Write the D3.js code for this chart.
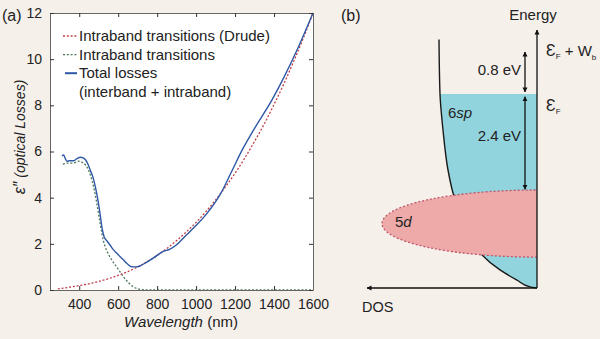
<!DOCTYPE html>
<html>
<head>
<meta charset="utf-8">
<script src="https://cdn.jsdelivr.net/npm/d3@7"></script>
<style>
  html, body { margin: 0; padding: 0; background: #f6f0eb; }
  svg { display: block; font-family: "Liberation Sans", Arial, sans-serif; }
</style>
</head>
<body>
<svg id="chart" width="600" height="339"></svg>
<script>
// ---------- Panel (a) data ----------
const xTicks = [400, 600, 800, 1000, 1200, 1400, 1600];
const yTicks = [0, 2, 4, 6, 8, 10, 12];

const totalWl = [312, 320, 328, 337, 350, 371, 390, 405, 420, 431, 445, 456, 470, 482, 498, 507, 516, 528, 540, 558, 575, 592, 609, 625, 644, 669, 690, 712, 745, 780, 831, 866, 900, 951, 994, 1054, 1123, 1186, 1238, 1300, 1391, 1450, 1528, 1600];
const totalVal = [5.8, 5.85, 5.7, 5.58, 5.6, 5.6, 5.7, 5.75, 5.72, 5.65, 5.45, 5.2, 4.9, 4.5, 3.8, 3.3, 2.75, 2.3, 2.15, 1.95, 1.75, 1.6, 1.45, 1.32, 1.16, 1.01, 1.0, 1.04, 1.2, 1.38, 1.67, 1.77, 1.96, 2.39, 2.75, 3.3, 4.13, 5.2, 6.09, 7.0, 8.26, 9.2, 10.58, 12.0];

const drudeWl = [290, 350, 400, 450, 500, 550, 600, 650, 700, 750, 800, 850, 900, 950, 1000, 1050, 1100, 1150, 1200, 1250, 1300, 1350, 1400, 1450, 1500, 1550, 1600];
const drudeVal = [0.05, 0.12, 0.19, 0.27, 0.37, 0.49, 0.63, 0.8, 1.0, 1.24, 1.5, 1.8, 2.14, 2.52, 2.93, 3.39, 3.9, 4.46, 5.06, 5.72, 6.44, 7.2, 8.04, 8.92, 9.89, 10.9, 12.0];

const interWl = [316, 345, 370, 396, 422, 447, 473, 490, 507, 516, 523, 533, 550, 567, 592, 609, 626, 644, 660, 678, 695, 712, 750, 800, 1000, 1200, 1400, 1600];
const interVal = [5.45, 5.5, 5.5, 5.58, 5.5, 5.2, 4.5, 3.77, 2.9, 2.46, 2.17, 1.88, 1.55, 1.3, 1.0, 0.8, 0.58, 0.4, 0.26, 0.14, 0.07, 0.03, 0.0, 0.0, 0.0, 0.0, 0.0, 0.0];

const legendLabels = ["Intraband transitions (Drude)", "Intraband transitions", "Total losses", "(interband + intraband)"];

// ---------- Panel (b) data (schematic energies in eV relative to E_F, DOS in arb. units) ----------
const spE   = [1.2, 0, -0.9, -1.9, -2.48, -3.0, -3.5, -4.07, -4.52, -4.79, -4.97, -5.0];
const spDOS = [0.98, 0.97, 0.94, 0.89, 0.84, 0.78, 0.70, 0.57, 0.37, 0.20, 0.07, 0.0];
const dBand = { top: -2.4, bottom: -4.18, width: 1.55 };
const gapArrows = [[0.8, 0.04], [-0.07, -2.38]];
const gapLabels = ["0.8 eV", "2.4 eV"];

const colors = { total: "#2f58a6", drude: "#c0404a", inter: "#4d7658", cyan: "#92d4dd", pink: "#eea9a9", pinkEdge: "#c0566a", bg: "#f6f0eb" };

const svg = d3.select("#chart");
const defs = svg.append("defs");
defs.append("marker").attr("id", "ah").attr("viewBox", "0 0 10 10").attr("refX", 9).attr("refY", 5)
  .attr("markerWidth", 5).attr("markerHeight", 7).attr("markerUnits", "userSpaceOnUse")
  .attr("orient", "auto-start-reverse")
  .append("path").attr("d", "M0,0 L10,5 L0,10 Z").attr("fill", "#111");

// ================= Panel (a) =================
const x = d3.scaleLinear().domain([250, 1600]).range([50, 313]);
const y = d3.scaleLinear().domain([0, 12]).range([290, 13]);

svg.append("rect").attr("x", x.range()[0]).attr("y", y.range()[1])
  .attr("width", x.range()[1] - x.range()[0]).attr("height", y.range()[0] - y.range()[1])
  .attr("fill", "#fff");

const clipA = defs.append("clipPath").attr("id", "clipA");
clipA.append("rect").attr("x", 50).attr("y", 12).attr("width", 264).attr("height", 279);

const plot = svg.append("g").attr("clip-path", "url(#clipA)");
const line = d3.line().x(d => x(d[0])).y(d => y(d[1])).curve(d3.curveMonotoneX);

plot.append("path").datum(d3.zip(interWl, interVal)).attr("d", line)
  .attr("fill", "none").attr("stroke", colors.inter).attr("stroke-width", 1.3).attr("stroke-dasharray", "2,1.8");
plot.append("path").datum(d3.zip(drudeWl, drudeVal)).attr("d", line)
  .attr("fill", "none").attr("stroke", colors.drude).attr("stroke-width", 1.3).attr("stroke-dasharray", "2,1.8");
plot.append("path").datum(d3.zip(totalWl, totalVal)).attr("d", line)
  .attr("fill", "none").attr("stroke", colors.total).attr("stroke-width", 1.4);

// axes with inward ticks
const axStyle = g => {
  g.select(".domain").attr("stroke", "#666");
  g.selectAll(".tick line").attr("stroke", "#333");
  g.selectAll("text").attr("font-size", 14).attr("fill", "#222").attr("font-family", "Liberation Sans, Arial, sans-serif");
};
const fmt = d3.format("d");
svg.append("g").attr("transform", `translate(0,${y(0)})`)
  .call(d3.axisBottom(x).tickValues(xTicks).tickFormat(fmt).tickSizeInner(-4).tickSizeOuter(0).tickPadding(9))
  .call(axStyle);
svg.append("g").attr("transform", `translate(0,${y(12)})`)
  .call(d3.axisTop(x).tickValues(xTicks).tickSizeInner(-4).tickSizeOuter(0).tickFormat(""))
  .call(axStyle);
svg.append("g").attr("transform", `translate(${x(250)},0)`)
  .call(d3.axisLeft(y).tickValues(yTicks).tickFormat(fmt).tickSizeInner(-4).tickSizeOuter(0).tickPadding(8))
  .call(axStyle);
svg.append("g").attr("transform", `translate(${x(1600)},0)`)
  .call(d3.axisRight(y).tickValues(yTicks).tickSizeInner(-4).tickSizeOuter(0).tickFormat(""))
  .call(axStyle);

// axis labels
svg.append("text").attr("x", 181).attr("y", 327).attr("text-anchor", "middle").attr("font-size", 15).attr("fill", "#222")
  .call(t => { t.append("tspan").attr("font-style", "italic").text("Wavelength"); t.append("tspan").text(" (nm)"); });
svg.append("text").attr("transform", "translate(25,137) rotate(-90)").attr("text-anchor", "middle")
  .attr("font-size", 14).attr("fill", "#222").attr("font-style", "italic")
  .call(t => { t.append("tspan").attr("font-size", 16).text("ε″"); t.append("tspan").text(" (optical Losses)"); });

svg.append("text").attr("x", 2).attr("y", 21).attr("font-size", 16).attr("fill", "#222").text("(a)");

// legend
const legendStyles = [
  { color: colors.drude, dash: "2,1.8", w: 1.3, x0: 63 },
  { color: colors.inter, dash: "2,1.8", w: 1.3, x0: 63 },
  { color: colors.total, dash: null, w: 2, x0: 65 },
  null
];
const leg = svg.append("g");
legendLabels.forEach((lab, i) => {
  const cy = 36 + i * 18.6;
  const st = legendStyles[i];
  if (st) {
    leg.append("line").attr("x1", st.x0).attr("x2", 77).attr("y1", cy).attr("y2", cy)
      .attr("stroke", st.color).attr("stroke-width", st.w).attr("stroke-dasharray", st.dash);
  }
  leg.append("text").attr("x", 79).attr("y", cy + 5).attr("font-size", 15).attr("fill", "#222").text(lab);
});

// ================= Panel (b) =================
const yE = d3.scaleLinear().domain([-5, -2.4, 0, 0.8, 1.5]).range([288, 190, 94, 52, 30]);
const xD = d3.scaleLinear().domain([0, 1.7]).range([537, 367]);

const spData = d3.zip(spE, spDOS);
const area = d3.area().y(d => yE(d[0])).x0(xD(0)).x1(d => xD(d[1])).curve(d3.curveMonotoneY);
svg.append("path").datum(spData.filter(d => d[0] <= 0)).attr("d", area).attr("fill", colors.cyan);
svg.append("path").datum(spData).attr("d", d3.line().y(d => yE(d[0])).x(d => xD(d[1])).curve(d3.curveMonotoneY))
  .attr("fill", "none").attr("stroke", "#1a1a1a").attr("stroke-width", 1.4);

const clipB = defs.append("clipPath").attr("id", "clipB");
clipB.append("rect").attr("x", 300).attr("y", 0).attr("width", xD(0) - 300).attr("height", 339);
svg.append("ellipse").attr("clip-path", "url(#clipB)")
  .attr("cx", xD(0)).attr("cy", (yE(dBand.top) + yE(dBand.bottom)) / 2)
  .attr("rx", xD(0) - xD(dBand.width)).attr("ry", (yE(dBand.bottom) - yE(dBand.top)) / 2)
  .attr("fill", colors.pink).attr("stroke", colors.pinkEdge).attr("stroke-width", 1.3).attr("stroke-dasharray", "2,2");

// axes
svg.append("line").attr("x1", xD(0)).attr("x2", xD(0)).attr("y1", yE(-5)).attr("y2", yE(1.5))
  .attr("stroke", "#111").attr("stroke-width", 1.3).attr("marker-end", "url(#ah)");
svg.append("line").attr("x1", xD(0)).attr("x2", xD(1.7)).attr("y1", yE(-5)).attr("y2", yE(-5))
  .attr("stroke", "#111").attr("stroke-width", 1.3).attr("marker-end", "url(#ah)");

// gap arrows
gapArrows.forEach(([e1, e2], i) => {
  svg.append("line").attr("x1", xD(0.12)).attr("x2", xD(0.12)).attr("y1", yE(e1)).attr("y2", yE(e2))
    .attr("stroke", "#111").attr("stroke-width", 1.3)
    .attr("marker-start", "url(#ah)").attr("marker-end", "url(#ah)");
  svg.append("text").attr("x", 521).attr("y", (yE(e1) + yE(e2)) / 2 + (i === 0 ? 3 : -2))
    .attr("text-anchor", "end").attr("font-size", 15).attr("fill", "#222").text(gapLabels[i]);
});

// labels
svg.append("text").attr("x", 341).attr("y", 21).attr("font-size", 16).attr("fill", "#222").text("(b)");
svg.append("text").attr("x", 533).attr("y", 20).attr("text-anchor", "middle").attr("font-size", 15).attr("fill", "#222").text("Energy");
svg.append("text").attr("x", 362).attr("y", 312).attr("font-size", 14.5).attr("fill", "#222").text("DOS");
svg.append("text").attr("x", 448).attr("y", 118).attr("font-size", 15).attr("fill", "#222")
  .call(t => { t.append("tspan").text("6"); t.append("tspan").attr("font-style", "italic").text("sp"); });
svg.append("text").attr("x", 395).attr("y", 227).attr("font-size", 15).attr("fill", "#222")
  .call(t => { t.append("tspan").text("5"); t.append("tspan").attr("font-style", "italic").text("d"); });

svg.append("text").attr("x", 546).attr("y", 56).attr("font-size", 16).attr("fill", "#222")
  .call(t => {
    t.append("tspan").text("Ɛ");
    t.append("tspan").attr("font-size", 8).attr("dy", 3).text("F");
    t.append("tspan").attr("font-size", 15).attr("dy", -3).text(" + W");
    t.append("tspan").attr("font-size", 8).attr("dy", 4).text("b");
  });
svg.append("text").attr("x", 546).attr("y", 111).attr("font-size", 16).attr("fill", "#222")
  .call(t => {
    t.append("tspan").text("Ɛ");
    t.append("tspan").attr("font-size", 8).attr("dy", 3).text("F");
  });
</script>
</body>
</html>
